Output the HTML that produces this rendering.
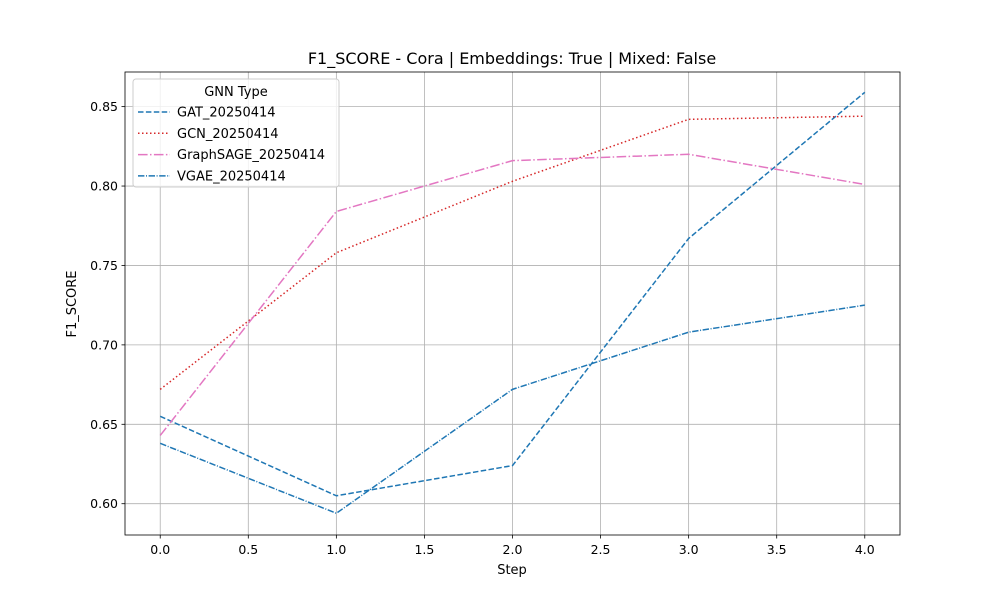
<!DOCTYPE html>
<html><head><meta charset="utf-8"><style>
body{margin:0;background:#fff;font-family:"Liberation Sans","DejaVu Sans",sans-serif;}
svg text{font-family:"DejaVu Sans","Liberation Sans",sans-serif;fill:#000;}
</style></head><body>
<svg id="chart" width="1000" height="600" xmlns="http://www.w3.org/2000/svg">
<rect width="1000" height="600" fill="#fff"/>
<g id="grid"></g><g id="series"></g><g id="axes"></g>
<text x="512" y="64" font-size="16" text-anchor="middle">F1_SCORE - Cora | Embeddings: True | Mixed: False</text>
<text x="512" y="574" font-size="13" text-anchor="middle">Step</text>
<text x="76" y="304" font-size="13" text-anchor="middle" transform="rotate(-90 76 304)">F1_SCORE</text>
<g id="legend"></g>
</svg>
<script>
const steps=[0,1,2,3,4];
const gat=[0.655,0.605,0.624,0.767,0.859];
const gcn=[0.672,0.758,0.803,0.842,0.844];
const sage=[0.643,0.784,0.816,0.820,0.801];
const vgae=[0.638,0.594,0.672,0.708,0.725];
const xTicks=[0,0.5,1,1.5,2,2.5,3,3.5,4];
const yTicks=[0.60,0.65,0.70,0.75,0.80,0.85];
const seriesNames=["GAT_20250414","GCN_20250414","GraphSAGE_20250414","VGAE_20250414"];
const L=125,R=900,T=72,B=535,xmin=-0.2,xmax=4.2,ymin=0.5803,ymax=0.8718;
const xs=v=>L+(v-xmin)/(xmax-xmin)*(R-L);
const ys=v=>B-(v-ymin)/(ymax-ymin)*(B-T);
const NS="http://www.w3.org/2000/svg";
function mk(tag,attrs,parent){const e=document.createElementNS(NS,tag);for(const k in attrs)e.setAttribute(k,attrs[k]);parent.appendChild(e);return e;}
const grid=document.getElementById('grid'),axes=document.getElementById('axes'),ser=document.getElementById('series'),leg=document.getElementById('legend');
xTicks.forEach(t=>{const x=xs(t);
 const g=mk('line',{x1:x,x2:x,y1:T,y2:B,stroke:'#b0b0b0','stroke-width':0.8},grid);
 
 
 mk('line',{x1:x,x2:x,y1:B,y2:B+3.5,stroke:'#000','stroke-width':0.8},axes);
 const tx=mk('text',{x:x,y:B+19,'font-size':12.5,'text-anchor':'middle'},axes);tx.textContent=t.toFixed(1);
 
 });
yTicks.forEach(t=>{const y=ys(t);
 const g=mk('line',{x1:L,x2:R,y1:y,y2:y,stroke:'#b0b0b0','stroke-width':0.8},grid);
 
 
 mk('line',{x1:L-3.5,x2:L,y1:y,y2:y,stroke:'#000','stroke-width':0.8},axes);
 const tx=mk('text',{x:L-7,y:y+4.5,'font-size':12.5,'text-anchor':'end'},axes);tx.textContent=t.toFixed(2);
 
 });
const fr=mk('rect',{x:L,y:T,width:R-L,height:B-T,fill:'none',stroke:'#000','stroke-width':0.8},axes);


const styles=[{c:'#1f77b4',d:'5.5,2.4'},{c:'#d62728',d:'1.5,2.5'},{c:'#e377c2',d:'9.6,2.4,1.5,2.4'},{c:'#1f77b4',d:'6.4,1.6,1,1.6'}];
const data=[gat,gcn,sage,vgae];
data.forEach((d,i)=>{const p=mk('polyline',{points:d.map((v,j)=>xs(steps[j])+','+ys(v)).join(' '),fill:'none',stroke:styles[i].c,'stroke-width':1.5,'stroke-dasharray':styles[i].d},ser);
 
 });
const lb=mk('rect',{x:133,y:79,width:206,height:108,rx:3,fill:'#fff','fill-opacity':0.8,stroke:'#ccc','stroke-width':1},leg);


const lt=mk('text',{x:236,y:96,'font-size':13,'text-anchor':'middle'},leg);lt.textContent='GNN Type';


seriesNames.forEach((n,i)=>{const y=112+i*21.3;
 mk('line',{x1:138,x2:170,y1:y,y2:y,stroke:styles[i].c,'stroke-width':1.5,'stroke-dasharray':styles[i].d},leg);
 const t=mk('text',{x:177,y:y+4.5,'font-size':13},leg);t.textContent=n;
 
 });
</script>
</body></html>
